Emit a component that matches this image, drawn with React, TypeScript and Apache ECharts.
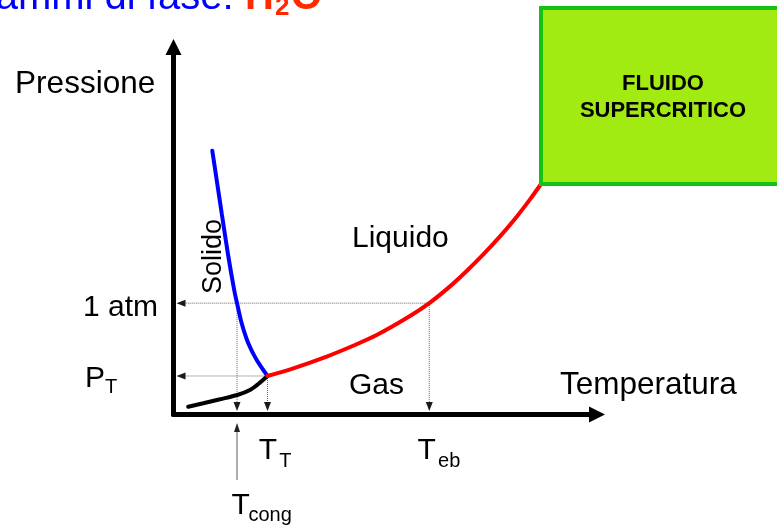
import React, { useEffect, useRef } from "react";
import * as echarts from "echarts";

const FONT = "'Liberation Sans', Arial, Helvetica, sans-serif";

// ---- Data (schematic units: temperature 0-100, pressure 0-100) ----
const solidLiquidCurve: [number, number][] = [
  [9.16, 71.78], [10.2, 63.81], [11.38, 54.75], [12.96, 42.94], [14.33, 33.88],
  [15.0, 30.3], [16.1, 24.82], [17.66, 19.37], [19.65, 14.83], [22.2, 10.48],
];
const solidGasCurve: [number, number][] = [
  [3.49, 2.12], [7.04, 3.05], [10.98, 4.14], [15.06, 5.31], [18.06, 6.67],
  [20.02, 8.3], [22.2, 10.48],
];
const liquidGasCurve: [number, number][] = [
  [22.2, 10.48], [28.29, 12.57], [36.17, 15.76], [42.0, 18.5], [47.98, 21.61], [55.84, 26.78],
  [60.4, 30.3], [65.29, 34.86], [69.23, 39.05], [73.15, 43.56], [77.1, 48.46],
  [81.04, 53.82], [84.18, 58.53], [86.78, 62.72],
];

const T_CONG = 15.0;
const T_TRIPLE = 22.2;
const T_EB = 60.4;
const P_ATM = 30.3;
const P_TRIPLE = 10.48;

const yTickValues = [P_ATM, P_TRIPLE];
const yTickMain = ["1 atm", "P"];
const yTickSub = ["", "T"];
const xTickValues = [T_TRIPLE, T_EB, T_CONG];
const xTickMain = ["T", "T", "T"];
const xTickSub = ["T", "eb", "cong"];

const regionNames = ["Liquido", "Gas", "Solido"];
const regionAt: [number, number][] = [[42.15, 48.3], [41.44, 8.57], [9.09, 43.0]];
const axisNames = ["Pressione", "Temperatura"];
const axisNameAt: [number, number][] = [[-37.4, 90.5], [91.27, 8.57]];
const boxLines = ["FLUIDO", "SUPERCRITICO"];
const titleMain = "Diagrammi di fase:";
const titleFormula = ["H", "2", "O"];

// arrow-head centres for guide lines (just off the axes)
const ARROW_X = 1.77;
const ARROW_Y = 2.18;
const congArrow: [number, number][] = [[T_CONG, -17.8], [T_CONG, -3.54]];

const guides = [
  { from: [T_EB, P_ATM], to: [ARROW_X, P_ATM], rot: 90 },
  { from: [T_TRIPLE, P_TRIPLE], to: [ARROW_X, P_TRIPLE], rot: 90 },
  { from: [T_CONG, P_ATM], to: [T_CONG, ARROW_Y], rot: 180 },
  { from: [T_TRIPLE, P_TRIPLE], to: [T_TRIPLE, ARROW_Y], rot: 180 },
  { from: [T_EB, P_ATM], to: [T_EB, ARROW_Y], rot: 180 },
];

export default function App() {
  const ref = useRef<HTMLDivElement>(null);

  useEffect(() => {
    const chart = echarts.init(ref.current!, null, { renderer: "svg" });

    const axisCommon = {
      type: "value",
      min: 0,
      max: 100,
      axisLine: {
        show: true,
        symbol: ["none", "triangle"],
        symbolSize: [16, 16],
        lineStyle: { color: "#000", width: 5 },
      },
      axisTick: { show: false },
      axisLabel: { show: false },
      splitLine: { show: false },
    };

    const curve = (data: [number, number][], color: string) => ({
      type: "line",
      data,
      smooth: 0.3,
      symbol: "none",
      lineStyle: { color, width: 4, cap: "round" },
      silent: true,
      z: 3,
    });

    const guideSeries = guides.map((g) => ({
      type: "line",
      data: [
        { value: g.from, symbol: "none" },
        { value: g.to, symbol: "triangle", symbolRotate: g.rot },
      ],
      symbolSize: [7, 9],
      showSymbol: true,
      lineStyle: { type: "dotted", width: 1, color: "#666" },
      itemStyle: { color: "#1a1a1a" },
      silent: true,
      clip: false,
      z: 1,
    }));

    chart.setOption({
      animation: false,
      grid: { left: 173.5, top: 47, width: 423.5, height: 367.5 },
      xAxis: axisCommon,
      yAxis: axisCommon,
      series: [
        ...guideSeries,
        {
          type: "line",
          data: [
            { value: congArrow[0], symbol: "none" },
            { value: congArrow[1], symbol: "triangle" },
          ],
          symbolSize: [6, 9],
          showSymbol: true,
          lineStyle: { type: "solid", width: 1.2, color: "#777" },
          itemStyle: { color: "#222" },
          silent: true,
          clip: false,
          z: 1,
        },
        curve(solidGasCurve, "#000000"),
        curve(solidLiquidCurve, "#0000ff"),
        curve(liquidGasCurve, "#ff0000"),
      ],
    });

    const px = (x: number, y: number) =>
      chart.convertToPixel({ gridIndex: 0 }, [x, y]) as number[];

    const txt = (
      text: string,
      x: number,
      y: number,
      size: number,
      o: { align?: string; fill?: string; bold?: boolean; rotation?: number } = {}
    ) => ({
      type: "text",
      x,
      y,
      rotation: o.rotation || 0,
      z: 100,
      silent: true,
      style: {
        text,
        fontSize: size,
        fontFamily: FONT,
        fontWeight: o.bold ? "bold" : "normal",
        fill: o.fill || "#000",
        align: o.align || "left",
        textAlign: o.align || "left",
        verticalAlign: "middle",
        textVerticalAlign: "middle",
      },
    });

    const [ox, oy] = px(0, 0);
    const els: any[] = [];

    // supercritical box, lower-left corner at the critical point
    const last = liquidGasCurve[liquidGasCurve.length - 1];
    const [cx, cy] = px(last[0], last[1]);
    els.push({
      type: "rect",
      z: 90,
      silent: true,
      shape: { x: cx, y: 8, width: 777 - cx + 20, height: cy - 8 },
      style: { fill: "#a1eb13", stroke: "#14c114", lineWidth: 4 },
    });
    const boxCx = 663;
    els.push(txt(boxLines[0], boxCx, 82.5, 22, { align: "center", bold: true }));
    els.push(txt(boxLines[1], boxCx, 109, 22, { align: "center", bold: true }));

    // y tick labels
    yTickValues.forEach((v, i) => {
      const [, y] = px(0, v);
      if (yTickSub[i]) {
        els.push(txt(yTickMain[i], ox - 68.5, y + 1, 30, { align: "right" }));
        els.push(txt(yTickSub[i], ox - 68.5, y + 10, 20));
      } else {
        els.push(txt(yTickMain[i], ox - 15.5, y + 2, 30, { align: "right" }));
      }
    });

    // x tick labels
    const xMainDx = [-8.7, -11.7, -5.6];
    const xMainDy = [33.5, 33.5, 88.5];
    const xSubDx = [20.5, 20.5, 17];
    const xSubDy = [45, 45, 99];
    xTickValues.forEach((v, i) => {
      const [x] = px(v, 0);
      els.push(txt(xTickMain[i], x + xMainDx[i], oy + xMainDy[i], 30));
      els.push(txt(xTickSub[i], x + xMainDx[i] + xSubDx[i], oy + xSubDy[i], 20));
    });

    // region names
    regionNames.forEach((n, i) => {
      const [x, y] = px(regionAt[i][0], regionAt[i][1]);
      if (n === "Solido") {
        els.push(txt(n, x, y, 27, { align: "center", rotation: Math.PI / 2 }));
      } else {
        els.push(txt(n, x, y, 30));
      }
    });

    // axis names
    axisNames.forEach((n, i) => {
      const [x, y] = px(axisNameAt[i][0], axisNameAt[i][1]);
      els.push(txt(n, x, y, 31.5));
    });

    // title (cropped at top, as in the source slide)
    els.push(txt(titleMain, 233.5, -5, 40, { align: "right", fill: "#0000ff" }));
    els.push(txt(titleFormula[0], 245, -5, 40, { fill: "#ff2a00", bold: true }));
    els.push(txt(titleFormula[1], 275, 6, 26, { fill: "#ff2a00", bold: true }));
    els.push(txt(titleFormula[2], 291, -5, 40, { fill: "#ff2a00", bold: true }));

    chart.setOption({ graphic: { elements: els } });

    return () => chart.dispose();
  }, []);

  return (
    <div
      ref={ref}
      style={{ position: "fixed", left: 0, top: 0, width: 777, height: 527 }}
    />
  );
}
